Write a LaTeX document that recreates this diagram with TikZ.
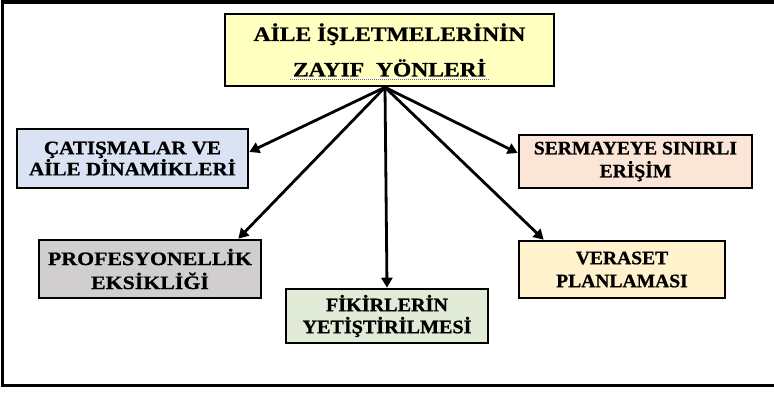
\documentclass[tikz,border=0pt]{standalone}
\usepackage{fontspec}
\setmainfont{Liberation Serif}
% widened, slightly heavier bold serif faces for the box labels
\newfontfamily\wideTop[FakeStretch=1.15,FakeBold=0.9]{Liberation Serif}
\newfontfamily\wideCat[FakeStretch=1.11,FakeBold=0.9]{Liberation Serif}
\newfontfamily\wideSer[FakeStretch=1.03,FakeBold=0.9]{Liberation Serif}
\newfontfamily\widePro[FakeStretch=1.15,FakeBold=0.9]{Liberation Serif}
\newfontfamily\wideFik[FakeStretch=1.06,FakeBold=0.9]{Liberation Serif}
\newfontfamily\wideVer[FakeStretch=1.03,FakeBold=0.9]{Liberation Serif}
\usetikzlibrary{arrows.meta}
\definecolor{cTop}{HTML}{FFFFC0}
\definecolor{cCat}{HTML}{DAE3F3}
\definecolor{cSer}{HTML}{FBE5D6}
\definecolor{cPro}{HTML}{D0CECE}
\definecolor{cFik}{HTML}{E2EBD8}
\definecolor{cVer}{HTML}{FFF2CC}
\begin{document}
\begin{tikzpicture}[x=1pt,y=-1pt,
  box/.style={draw=black, line width=2.6pt, rectangle, align=center,
    inner sep=0pt, text=black},
  link/.style={draw=black, line width=2.8pt,
    -{Triangle[length=10pt,width=11pt]}},
  frame/.style={draw=black, line width=3.6pt}]
\useasboundingbox (0,0) rectangle (774,393);
% outer frame (its right side runs past the page edge)
\draw[frame] (2.5,1.8) rectangle (800,385.5);

% central box
\node[box, fill=cTop, minimum width=329pt, minimum height=72pt,
  font=\wideTop\bfseries\fontsize{20.5}{35.5}\selectfont]
  (top) at (389.5,50) {AİLE İŞLETMELERİNİN\\ZAYIF\ \ YÖNLERİ};
% spelling squiggle under the second line
\draw[blue!65!white, line width=0.9pt, dash pattern=on 1.2pt off 0.8pt]
  ([xshift=-99.5pt,yshift=8pt]top.south) -- ([xshift=100.5pt,yshift=8pt]top.south);

% surrounding boxes
\node[box, fill=cCat, minimum width=231pt, minimum height=59pt,
  font=\wideCat\bfseries\fontsize{19}{20}\selectfont]
  (cat) at (132.5,158.5) {ÇATIŞMALAR VE\\AİLE DİNAMİKLERİ};
\node[box, fill=cSer, minimum width=233pt, minimum height=53pt,
  font=\wideSer\bfseries\fontsize{19}{23}\selectfont]
  (ser) at (635.5,161.5) {SERMAYEYE SINIRLI\\ERİŞİM};
\node[box, fill=cPro, minimum width=222pt, minimum height=58pt,
  font=\widePro\bfseries\fontsize{19}{24}\selectfont]
  (pro) at (150,269) {PROFESYONELLİK\\EKSİKLİĞİ};
\node[box, fill=cFik, minimum width=202pt, minimum height=54pt,
  font=\wideFik\bfseries\fontsize{19}{22}\selectfont]
  (fik) at (387,316) {FİKİRLERİN\\YETİŞTİRİLMESİ};
\node[box, fill=cVer, minimum width=206pt, minimum height=57pt,
  font=\wideVer\bfseries\fontsize{19}{23}\selectfont]
  (ver) at (622,269.5) {VERASET\\PLANLAMASI};

% arrows fanning out from the bottom of the central box
\coordinate (hub) at ([xshift=-4.5pt]top.south);
\draw[link] (hub) -- ([yshift=6.5pt]cat.east);
\draw[link] (hub) -- ([xshift=-24pt]pro.north east);
\draw[link] (hub) -- (fik.north);
\draw[link] (hub) -- ([yshift=8.5pt]ser.west);
\draw[link] (hub) -- ([xshift=26pt]ver.north west);
\end{tikzpicture}
\end{document}
